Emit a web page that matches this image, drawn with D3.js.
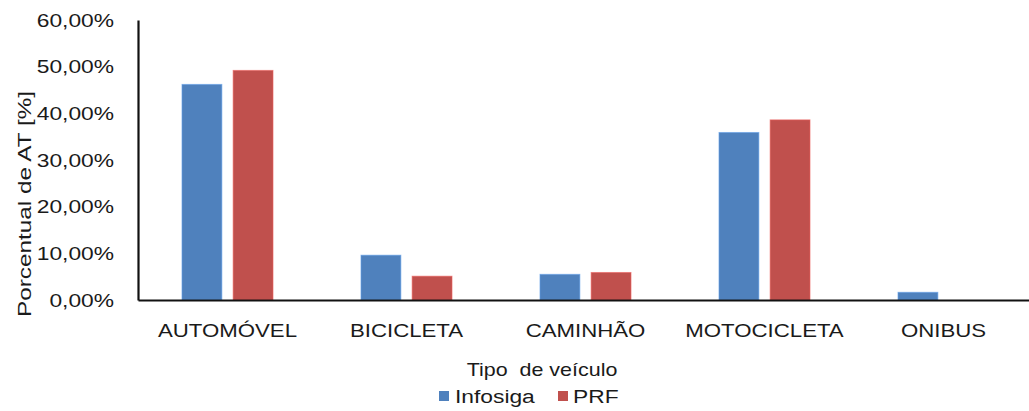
<!DOCTYPE html>
<html>
<head>
<meta charset="utf-8">
<script src="https://cdn.jsdelivr.net/npm/d3@7"></script>
<style>
  html, body { margin: 0; padding: 0; background: #fff; }
  svg { display: block; }
  text { font-family: "Liberation Sans", Arial, sans-serif; fill: #1a1a1a; }
</style>
</head>
<body>
<svg id="chart" width="1029" height="411"></svg>
<script>
// Share of traffic accidents (AT) by vehicle type, two data sources
const categories = ["AUTOMÓVEL", "BICICLETA", "CAMINHÃO", "MOTOCICLETA", "ONIBUS"];
const seriesNames = ["Infosiga", "PRF"];
const infosigaValues = [46.2, 9.6, 5.5, 35.9, 1.65];
const prfValues = [49.2, 5.1, 5.9, 38.6, 0];
const yTicks = [0, 10, 20, 30, 40, 50, 60];
const seriesColors = ["#4F81BD", "#C0504D"];

const svg = d3.select("#chart");
const plotLeft = 138, plotRight = 1033, plotTop = 20, plotBottom = 300;

const x0 = d3.scaleBand().domain(categories).range([plotLeft, plotRight]).padding(0);
const x1 = d3.scaleBand().domain(seriesNames).range([0, x0.bandwidth()])
  .paddingInner(0.22).paddingOuter(0.86);
const y = d3.scaleLinear().domain([0, 60]).range([plotBottom, plotTop]);
const color = d3.scaleOrdinal().domain(seriesNames).range(seriesColors);

const rows = categories.map((c, i) => ({
  category: c,
  values: [
    { key: "Infosiga", value: infosigaValues[i] },
    { key: "PRF", value: prfValues[i] }
  ]
}));

// Bars
const groups = svg.append("g").selectAll("g").data(rows).join("g")
  .attr("transform", d => `translate(${x0(d.category)},0)`);
groups.selectAll("rect").data(d => d.values.filter(v => v.value > 0)).join("rect")
  .attr("x", d => x1(d.key))
  .attr("y", d => y(d.value))
  .attr("width", x1.bandwidth())
  .attr("height", d => y(0) - y(d.value))
  .attr("fill", d => color(d.key))
  .attr("stroke", d => d3.color(color(d.key)).brighter(0.6))
  .attr("stroke-opacity", 0.6)
  .attr("stroke-width", 1);

// Y axis
const fmt = v => d3.format(".2f")(v).replace(".", ",") + "%";
const yAxis = svg.append("g").attr("transform", `translate(${plotLeft},0)`)
  .call(d3.axisLeft(y).tickValues(yTicks).tickFormat(fmt).tickSize(0).tickSizeOuter(0));
yAxis.select(".domain").attr("stroke", "#111").attr("stroke-width", 2.2);
yAxis.selectAll("text")
  .attr("x", 0).attr("dy", "0.33em")
  .attr("text-anchor", "end")
  .attr("transform", "translate(-24,0) scale(1.2,1)")
  .style("font-size", "19px");

// X axis
const xAxis = svg.append("g").attr("transform", `translate(0,${plotBottom})`)
  .call(d3.axisBottom(x0).tickSize(0).tickSizeOuter(0));
xAxis.select(".domain").attr("stroke", "#111").attr("stroke-width", 2.2);
xAxis.selectAll("text")
  .attr("y", 0).attr("dy", 0)
  .attr("transform", "translate(0,37) scale(1.17,1)")
  .style("font-size", "19px");

// Axis titles
svg.append("text")
  .attr("transform", "translate(31,204) rotate(-90) scale(1.28,1)")
  .attr("text-anchor", "middle")
  .style("font-size", "19px")
  .text("Porcentual de AT [%]");

svg.append("text")
  .attr("transform", "translate(542,376) scale(1.13,1)")
  .attr("text-anchor", "middle")
  .style("font-size", "19px")
  .style("white-space", "pre")
  .text("Tipo  de veículo");

// Legend
const legendItems = [
  { name: seriesNames[0], sx: 439, tx: 455 },
  { name: seriesNames[1], sx: 558, tx: 573 }
];
const legend = svg.append("g");
legend.selectAll("rect").data(legendItems).join("rect")
  .attr("x", d => d.sx).attr("y", 391)
  .attr("width", 10).attr("height", 10)
  .attr("fill", d => color(d.name));
legend.selectAll("text").data(legendItems).join("text")
  .attr("transform", d => `translate(${d.tx},403) scale(1.2,1)`)
  .style("font-size", "19px")
  .text(d => d.name);
</script>
</body>
</html>
